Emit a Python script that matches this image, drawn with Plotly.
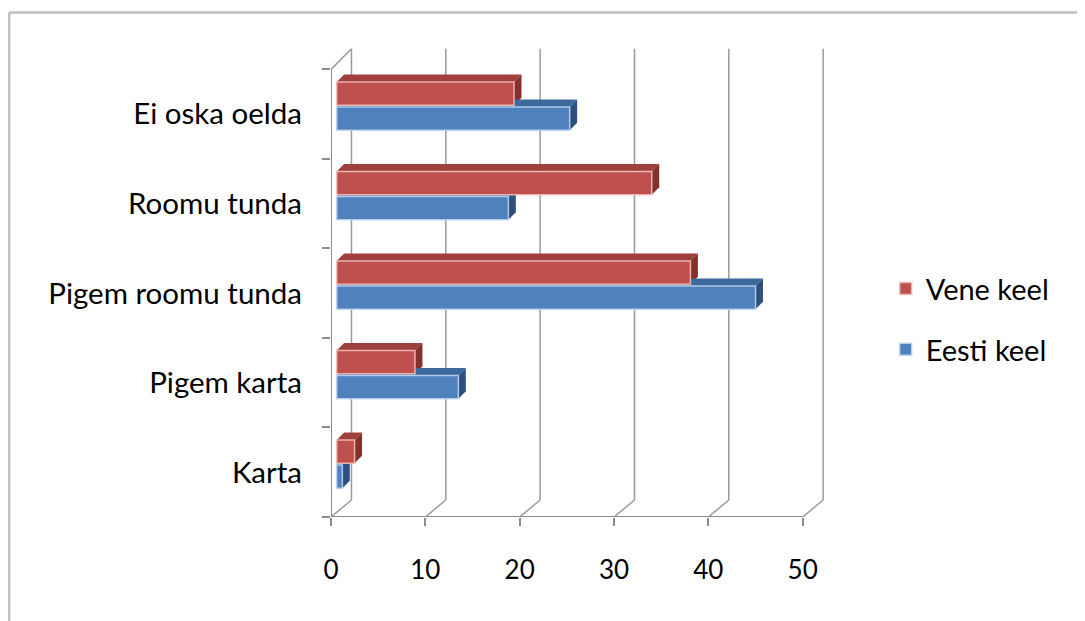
import plotly.graph_objects as go

# ---------------- data ----------------
categories = ["Karta", "Pigem karta", "Pigem roomu tunda", "Roomu tunda", "Ei oska oelda"]
vene_keel = [1.9, 8.3, 37.5, 33.4, 18.8]
eesti_keel = [0.6, 12.9, 44.4, 18.2, 24.7]
x_ticks = [0, 10, 20, 30, 40, 50]

# ---------------- style / layout constants ----------------
W, H = 1085, 621
PAGE_OFFSET = 8          # default body margin of the html page
FONT = "Lato"
X_RANGE = [0, 53]
Y_RANGE = [-0.5, 4.75]
PLOT_L, PLOT_R = 331 - PAGE_OFFSET, 831.3 - PAGE_OFFSET
PLOT_T, PLOT_B = 46.6 - PAGE_OFFSET, 517 - PAGE_OFFSET

# pseudo-3D depth (in axis units)
WALL_DX, WALL_DY = 2.17, 0.19      # back wall offset
BAR_SHIFT = 0.6                    # bar plane offset from front plane (x units)
BAR_DX, BAR_DY = 0.79, 0.084       # bar thickness in depth

RED, RED_TOP, RED_SIDE = "#C0504D", "#A0403D", "#83302E"
BLUE, BLUE_TOP, BLUE_SIDE = "#4F81BD", "#3D6A9E", "#2D5080"
GRID = "#9A9A9A"
AXIS = "#8C8C8C"

series = [
    dict(name="Vene keel", values=vene_keel, offset=0.10, width=0.26,
         colors=(RED, RED_TOP, RED_SIDE), group="v", line="rgba(240,190,188,0.9)"),
    dict(name="Eesti keel", values=eesti_keel, offset=-0.18, width=0.26,
         colors=(BLUE, BLUE_TOP, BLUE_SIDE), group="e", line="rgba(190,210,240,0.9)"),
]


def px_to_paper_x(px):
    return (px - PAGE_OFFSET - PLOT_L) / (PLOT_R - PLOT_L)


def px_to_paper_y(py):
    return (PLOT_B - (py - PAGE_OFFSET)) / (PLOT_B - PLOT_T)


fig = go.Figure()

for s in series:
    fig.add_trace(go.Bar(
        y=categories, x=s["values"], base=[BAR_SHIFT] * len(categories),
        orientation="h", name=s["name"], legendgroup=s["group"],
        offset=s["offset"], width=s["width"],
        marker=dict(color=s["colors"][0], line=dict(color=s["line"], width=1.5)),
    ))

shapes = []
y_lo, y_hi = -0.5, len(categories) - 0.5

# back-wall gridlines and floor diagonals
for t in x_ticks:
    shapes.append(dict(type="line", xref="x", yref="y", layer="below",
                       x0=t + WALL_DX, x1=t + WALL_DX, y0=y_lo + WALL_DY, y1=y_hi + WALL_DY + 0.04,
                       line=dict(color=GRID, width=1.5)))
    shapes.append(dict(type="line", xref="x", yref="y", layer="below",
                       x0=t, x1=t + WALL_DX, y0=y_lo, y1=y_lo + WALL_DY,
                       line=dict(color=GRID, width=1.5)))
# left wall top diagonal
shapes.append(dict(type="line", xref="x", yref="y", layer="below",
                   x0=0, x1=WALL_DX, y0=y_hi, y1=y_hi + WALL_DY + 0.04,
                   line=dict(color=GRID, width=1.5)))
# front axis lines
shapes.append(dict(type="line", xref="x", yref="y", layer="below",
                   x0=x_ticks[0], x1=x_ticks[-1], y0=y_lo, y1=y_lo,
                   line=dict(color=AXIS, width=2)))
shapes.append(dict(type="line", xref="x", yref="y", layer="below",
                   x0=0, x1=0, y0=y_lo, y1=y_hi,
                   line=dict(color=AXIS, width=2)))

# 3D faces of bars (top and end side) computed from data values
for s in series:
    _, top_c, side_c = s["colors"]
    for i, v in enumerate(s["values"]):
        b0 = i + s["offset"]
        b1 = b0 + s["width"]
        xs = BAR_SHIFT
        xe = BAR_SHIFT + v
        top_path = (f"M{xs},{b1} L{xe},{b1} L{xe + BAR_DX},{b1 + BAR_DY} "
                    f"L{xs + BAR_DX},{b1 + BAR_DY} Z")
        side_path = (f"M{xe},{b0} L{xe},{b1} L{xe + BAR_DX},{b1 + BAR_DY} "
                     f"L{xe + BAR_DX},{b0 + BAR_DY} Z")
        shapes.append(dict(type="path", xref="x", yref="y", layer="below",
                           path=top_path, fillcolor=top_c, line=dict(width=0)))
        shapes.append(dict(type="path", xref="x", yref="y", layer="below",
                           path=side_path, fillcolor=side_c, line=dict(width=0)))

# outer frame (top and left edges)
frame_x0 = px_to_paper_x(9)
frame_y0 = px_to_paper_y(12)
shapes.append(dict(type="line", xref="paper", yref="paper",
                   x0=frame_x0, x1=px_to_paper_x(W + 10), y0=frame_y0, y1=frame_y0,
                   line=dict(color="#BFBFBF", width=2.5)))
shapes.append(dict(type="line", xref="paper", yref="paper",
                   x0=frame_x0, x1=frame_x0, y0=frame_y0, y1=px_to_paper_y(H + 10),
                   line=dict(color="#BFBFBF", width=2.5)))

fig.update_layout(
    width=W, height=H,
    margin=dict(l=PLOT_L, r=W - PLOT_R, t=PLOT_T, b=H - PLOT_B, autoexpand=False),
    paper_bgcolor="white", plot_bgcolor="rgba(0,0,0,0)",
    barmode="group",
    font=dict(family=FONT, size=26, color="#000000"),
    shapes=shapes,
    showlegend=True,
    legend=dict(x=px_to_paper_x(886), y=px_to_paper_y(319), xanchor="left", yanchor="middle",
                traceorder="grouped", tracegroupgap=20,
                font=dict(family=FONT, size=29, color="#000000"),
                bgcolor="rgba(0,0,0,0)"),
    xaxis=dict(range=X_RANGE, tickvals=x_ticks, ticktext=[str(t) for t in x_ticks],
               showgrid=False, zeroline=False, showline=False,
               ticks="outside", ticklen=8, tickwidth=2, tickcolor=AXIS,
               ticklabelstandoff=22, tickfont=dict(size=26)),
    yaxis=dict(type="category", categoryorder="array", categoryarray=categories,
               range=Y_RANGE, showgrid=False, zeroline=False, showline=False,
               ticks="outside", tickson="boundaries", ticklen=8, tickwidth=2, tickcolor=AXIS,
               ticklabelstandoff=28, tickfont=dict(size=29.5)),
)

fig.write_html("out.html")
